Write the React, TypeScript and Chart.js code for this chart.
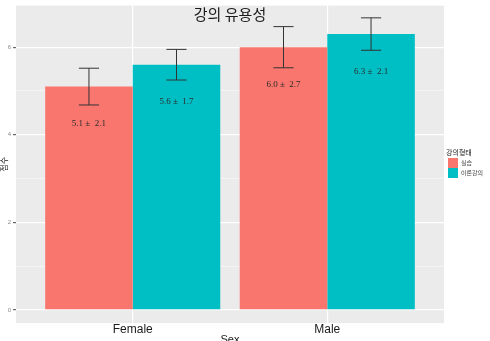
import React, { useEffect, useRef } from "react";
import { Chart, registerables } from "chart.js";

Chart.register(...registerables);

// Groups on the x axis
const categories = ["Female", "Male"];

// Mean usefulness score per lecture type
const practiceMean = [5.1, 6.0];
const theoryMean = [5.6, 6.3];

// Standard deviations printed under each bar
const practiceSD = [2.1, 2.7];
const theorySD = [1.7, 2.1];

// Half-length of each error bar
const practiceErr = [0.42, 0.47];
const theoryErr = [0.35, 0.37];

const seriesNames = ["실습", "이론강의"];
const yTicks = [0, 2, 4, 6];

const TITLE = "강의 유용성";
const X_TITLE = "Sex";
const Y_TITLE = "점수";
const LEGEND_TITLE = "강의형태";

const COLORS = ["#F8766D", "#00BFC4"];
const PANEL = "#EBEBEB";
const SANS = "'Liberation Sans', Arial, sans-serif";
const KR = "'Noto Sans CJK KR', 'Noto Sans', sans-serif";
const SERIF = "'Liberation Serif', 'DejaVu Serif', serif";

const errors = [practiceErr, theoryErr];
const sds = [practiceSD, theorySD];

const decorations = {
  id: "decorations",
  beforeDraw(chart: any) {
    const { ctx, chartArea: a } = chart;
    ctx.save();
    ctx.fillStyle = "#ffffff";
    ctx.fillRect(0, 0, chart.width, chart.height);
    ctx.fillStyle = PANEL;
    ctx.fillRect(a.left, a.top, a.right - a.left, a.bottom - a.top);
    ctx.restore();
  },
  afterDatasetsDraw(chart: any) {
    const { ctx } = chart;
    const y = chart.scales.y;
    ctx.save();
    chart.data.datasets.forEach((ds: any, di: number) => {
      const meta = chart.getDatasetMeta(di);
      meta.data.forEach((bar: any, i: number) => {
        const mean = ds.data[i].y;
        const err = errors[di][i];
        const cx = bar.x;
        const half = bar.width * 0.115;
        const yTop = y.getPixelForValue(mean + err);
        const yBot = y.getPixelForValue(mean - err);
        ctx.strokeStyle = "#333333";
        ctx.lineWidth = 1;
        ctx.beginPath();
        ctx.moveTo(cx, yTop);
        ctx.lineTo(cx, yBot);
        ctx.moveTo(cx - half, yTop);
        ctx.lineTo(cx + half, yTop);
        ctx.moveTo(cx - half, yBot);
        ctx.lineTo(cx + half, yBot);
        ctx.stroke();

        ctx.fillStyle = "#2b2b2b";
        ctx.font = `9px ${SERIF}`;
        ctx.textAlign = "center";
        ctx.textBaseline = "middle";
        const text = `${mean.toFixed(1)} ±  ${sds[di][i].toFixed(1)}`;
        ctx.fillText(text, cx, y.getPixelForValue(mean - 0.85));
      });
    });
    ctx.restore();
  },
  afterDraw(chart: any) {
    const { ctx, chartArea: a } = chart;
    ctx.save();
    // Title
    ctx.fillStyle = "#1a1a1a";
    ctx.font = `15px ${KR}`;
    ctx.textAlign = "center";
    ctx.textBaseline = "middle";
    ctx.fillText(TITLE, (a.left + a.right) / 2, 14);

    // Axis titles
    ctx.fillStyle = "#1a1a1a";
    ctx.font = `11px ${SANS}`;
    ctx.textBaseline = "top";
    ctx.fillText(X_TITLE, (a.left + a.right) / 2, 334);

    ctx.save();
    ctx.translate(3.5, (a.top + a.bottom) / 2);
    ctx.rotate(-Math.PI / 2);
    ctx.font = `8px ${KR}`;
    ctx.textBaseline = "middle";
    ctx.fillText(Y_TITLE, 0, 0);
    ctx.restore();

    // Legend
    const lx = a.right + 4;
    ctx.textAlign = "left";
    ctx.textBaseline = "middle";
    ctx.fillStyle = "#222222";
    ctx.font = `7px ${KR}`;
    ctx.fillText(LEGEND_TITLE, lx - 2, 152);
    chart.data.datasets.forEach((ds: any, di: number) => {
      const ky = 158 + di * 10;
      ctx.fillStyle = ds.backgroundColor;
      ctx.fillRect(lx, ky, 10, 10);
      ctx.fillStyle = "#444444";
      ctx.font = `6px ${KR}`;
      ctx.fillText(ds.label, lx + 13, ky + 5);
    });
    ctx.restore();
  },
};

export default function App() {
  const ref = useRef<HTMLCanvasElement | null>(null);

  useEffect(() => {
    document.body.style.margin = "0";
    if (!ref.current) return;
    const chart = new Chart(ref.current, {
      type: "bar",
      data: {
        datasets: [
          {
            label: seriesNames[0],
            data: practiceMean.map((v, i) => ({ x: i + 1, y: v })),
            backgroundColor: COLORS[0],
          },
          {
            label: seriesNames[1],
            data: theoryMean.map((v, i) => ({ x: i + 1, y: v })),
            backgroundColor: COLORS[1],
          },
        ],
      },
      options: {
        responsive: false,
        animation: false,
        devicePixelRatio: 1,
        layout: { padding: { top: 3, right: 46, left: 0, bottom: 0 } },
        datasets: {
          bar: { categoryPercentage: 0.9, barPercentage: 1.0 },
        },
        plugins: {
          legend: { display: false },
          title: { display: false },
          tooltip: { enabled: false },
        },
        scales: {
          x: {
            type: "linear",
            min: 0.4,
            max: 2.6,
            offset: false,
            afterFit: (s: any) => {
              s.height = 18;
            },
            border: { display: false },
            grid: {
              offset: false,
              color: "#ffffff",
              lineWidth: 1.2,
              drawTicks: false,
            },
            ticks: {
              stepSize: 1,
              includeBounds: false,
              maxRotation: 0,
              padding: -1,
              color: "#1a1a1a",
              font: { family: SANS, size: 12 },
              callback: (v: any) => categories[Math.round(Number(v)) - 1] ?? "",
            },
          },
          y: {
            min: -0.3,
            max: 6.95,
            afterFit: (s: any) => {
              s.width = 16;
            },
            border: { display: false },
            grid: {
              color: (c: any) =>
                c.tick && c.tick.value % 2 === 0 ? "#ffffff" : "rgba(255,255,255,0.75)",
              lineWidth: (c: any) => (c.tick && c.tick.value % 2 === 0 ? 1.2 : 0.6),
              tickLength: 3,
              tickColor: (c: any) =>
                c.tick && yTicks.includes(c.tick.value) ? "#666666" : "rgba(0,0,0,0)",
            },
            ticks: {
              stepSize: 1,
              includeBounds: false,
              padding: 2,
              color: "#8a8a8a",
              font: { family: SANS, size: 6 },
              callback: (v: any) => (yTicks.includes(Number(v)) ? String(v) : ""),
            },
          },
        },
      },
      plugins: [decorations],
    });
    return () => chart.destroy();
  }, []);

  return <canvas ref={ref} width={490} height={341} style={{ display: "block" }} />;
}
